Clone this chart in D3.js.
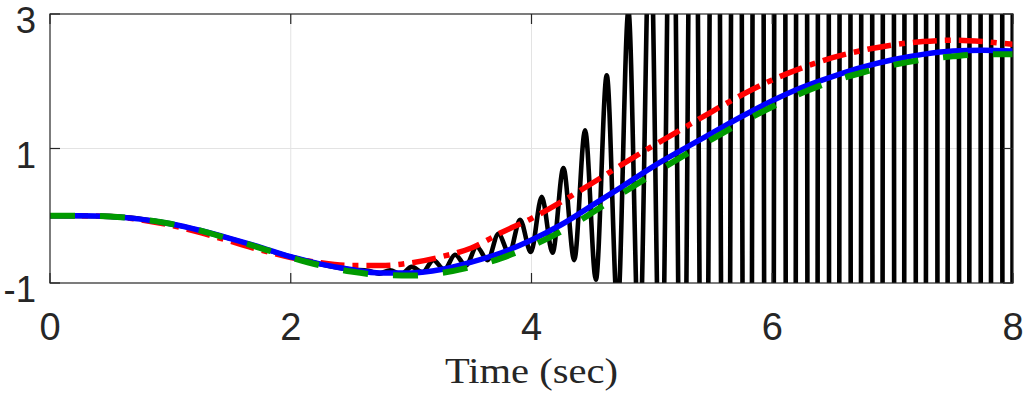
<!DOCTYPE html>
<html>
<head>
<meta charset="utf-8">
<script src="https://cdn.jsdelivr.net/npm/d3@7"></script>
<style>
  body { margin: 0; background: #fff; }
  svg { display: block; }
</style>
</head>
<body>
<div id="chart"></div>
<script>
// sample times for the smooth responses (sec)
const timeSec = [0, 0.25, 0.5, 0.75, 1, 1.25, 1.5, 1.75, 2, 2.25, 2.5, 2.75, 3, 3.25, 3.5, 3.75,
  4, 4.25, 4.5, 4.75, 5, 5.25, 5.5, 5.75, 6, 6.25, 6.5, 6.75, 7, 7.25, 7.5, 7.75, 8];

// solid blue
const blueVals = [0, 0, -0.01, -0.05, -0.12, -0.22, -0.34, -0.47, -0.61, -0.72, -0.8, -0.85, -0.85, -0.8, -0.69, -0.55,
  -0.36, -0.13, 0.15, 0.43, 0.72, 0.98, 1.23, 1.48, 1.71, 1.91, 2.07, 2.21, 2.32, 2.4, 2.45, 2.46, 2.45];

// red dash-dot
const redVals = [0, 0, -0.01, -0.06, -0.14, -0.25, -0.38, -0.51, -0.62, -0.7, -0.74, -0.74, -0.7, -0.61, -0.48, -0.25,
  -0.04, 0.21, 0.48, 0.76, 1.03, 1.29, 1.55, 1.8, 2.02, 2.2, 2.35, 2.46, 2.54, 2.59, 2.61, 2.59, 2.55];

// green dashed
const greenVals = [0, 0, -0.01, -0.05, -0.12, -0.22, -0.35, -0.48, -0.62, -0.74, -0.83, -0.88, -0.89, -0.85, -0.76, -0.63,
  -0.45, -0.23, 0.04, 0.33, 0.61, 0.88, 1.14, 1.39, 1.62, 1.83, 2.0, 2.13, 2.24, 2.32, 2.37, 2.4, 2.4];

// black (unstable) response: smooth start, then turning points of the oscillation
const blackTimes = [0, 0.5, 1, 1.5, 2, 2.25, 2.5, 2.645, 2.735, 2.825, 2.915,
  3.005, 3.095, 3.185, 3.275, 3.365, 3.455, 3.545, 3.635, 3.725, 3.815, 3.905, 3.995,
  4.085, 4.175, 4.265, 4.355, 4.445, 4.535, 4.625, 4.715, 4.805, 4.895, 4.985, 5.075,
  5.165, 5.255, 5.345, 5.435, 5.525, 5.615, 5.705, 5.795, 5.885, 5.975, 6.065, 6.155,
  6.245, 6.335, 6.425, 6.515, 6.605, 6.695, 6.785, 6.875, 6.965, 7.055, 7.145, 7.235,
  7.325, 7.415, 7.505, 7.595, 7.685, 7.775, 7.865, 7.955, 8.045];
const blackVals = [0, -0.01, -0.12, -0.34, -0.61, -0.72, -0.8, -0.82, -0.86, -0.81, -0.87,
  -0.76, -0.84, -0.66, -0.8, -0.58, -0.74, -0.46, -0.66, -0.27, -0.56, -0.06, -0.54,
  0.28, -0.55, 0.71, -0.66, 1.27, -0.95, 2.09, -1.4, 3.05, -2.1, 4.5, -3.4,
  7, -5.5, 10, -8.5, 15, -13, 22, -20, 33, -30, 45, -42,
  55, -50, 60, -55, 65, -60, 70, -62, 75, -65, 80, -70,
  85, -75, 90, -80, 95, -85, 100, -90, 105];

const xTicks = [0, 2, 4, 6, 8];
const yTicks = [-1, 1, 3];
const xLabel = "Time (sec)";

(function () {
  const W = 1023, H = 394;
  const m = { left: 50, right: 1013, top: 14, bottom: 283 };
  const axisColor = "#262626";

  const svg = d3.select("#chart").append("svg")
    .attr("width", W).attr("height", H);

  const x = d3.scaleLinear().domain([0, 8]).range([m.left, m.right]);
  const y = d3.scaleLinear().domain([-1, 3]).range([m.bottom, m.top]);

  svg.append("defs").append("clipPath").attr("id", "plotClip")
    .append("rect")
    .attr("x", m.left).attr("y", m.top)
    .attr("width", m.right - m.left).attr("height", m.bottom - m.top);

  // grid
  const grid = svg.append("g").attr("stroke", "#e3e3e3").attr("stroke-width", 1);
  grid.selectAll("line.gx").data(xTicks.filter(d => d > 0 && d < 8)).join("line")
    .attr("class", "gx")
    .attr("x1", d => x(d)).attr("x2", d => x(d))
    .attr("y1", m.top).attr("y2", m.bottom);
  grid.selectAll("line.gy").data(yTicks.filter(d => d > -1 && d < 3)).join("line")
    .attr("class", "gy")
    .attr("y1", d => y(d)).attr("y2", d => y(d))
    .attr("x1", m.left).attr("x2", m.right);

  const plot = svg.append("g").attr("clip-path", "url(#plotClip)");

  const line = d3.line()
    .x(d => x(d[0]))
    .y(d => y(d[1]))
    .curve(d3.curveMonotoneX);

  const blackData = blackTimes.map((t, i) => [t, blackVals[i]]);
  const redData = timeSec.map((t, i) => [t, redVals[i]]);
  const blueData = timeSec.map((t, i) => [t, blueVals[i]]);
  const greenData = timeSec.map((t, i) => [t, greenVals[i]]);

  plot.append("path").datum(blackData)
    .attr("d", line).attr("fill", "none")
    .attr("stroke", "#000").attr("stroke-width", 4.6)
    .attr("stroke-linejoin", "round");

  plot.append("path").datum(redData)
    .attr("d", line).attr("fill", "none")
    .attr("stroke", "#ff0000").attr("stroke-width", 5.5)
    .attr("stroke-dasharray", "24,8,6,8");

  plot.append("path").datum(blueData)
    .attr("d", line).attr("fill", "none")
    .attr("stroke", "#0000ff").attr("stroke-width", 5.5);

  plot.append("path").datum(greenData)
    .attr("d", line).attr("fill", "none")
    .attr("stroke", "#009a00").attr("stroke-width", 6)
    .attr("stroke-dasharray", "25,25");

  // axes box with inward ticks on all four sides
  const tickLen = 10;
  const axes = svg.append("g").attr("stroke", axisColor).attr("stroke-width", 1.2);

  axes.append("rect")
    .attr("x", m.left).attr("y", m.top)
    .attr("width", m.right - m.left).attr("height", m.bottom - m.top)
    .attr("fill", "none");

  axes.selectAll("line.xb").data(xTicks).join("line").attr("class", "xb")
    .attr("x1", d => x(d)).attr("x2", d => x(d))
    .attr("y1", m.bottom).attr("y2", m.bottom - tickLen);
  axes.selectAll("line.xt").data(xTicks).join("line").attr("class", "xt")
    .attr("x1", d => x(d)).attr("x2", d => x(d))
    .attr("y1", m.top).attr("y2", m.top + tickLen);
  axes.selectAll("line.yl").data(yTicks).join("line").attr("class", "yl")
    .attr("y1", d => y(d)).attr("y2", d => y(d))
    .attr("x1", m.left).attr("x2", m.left + tickLen);
  axes.selectAll("line.yr").data(yTicks).join("line").attr("class", "yr")
    .attr("y1", d => y(d)).attr("y2", d => y(d))
    .attr("x1", m.right).attr("x2", m.right - tickLen);

  // tick labels
  const labelFont = "'Liberation Sans', Arial, Helvetica, sans-serif";
  svg.append("g").selectAll("text").data(xTicks).join("text")
    .attr("x", d => x(d)).attr("y", 340)
    .attr("text-anchor", "middle")
    .attr("font-family", labelFont).attr("font-size", 38)
    .attr("fill", axisColor)
    .text(d => d);

  svg.append("g").selectAll("text").data(yTicks).join("text")
    .attr("x", 36).attr("y", d => y(d) + 19)
    .attr("text-anchor", "end")
    .attr("font-family", labelFont).attr("font-size", 36.5)
    .attr("fill", axisColor)
    .text(d => d);

  svg.append("text")
    .attr("x", (m.left + m.right) / 2).attr("y", 383)
    .attr("text-anchor", "middle")
    .attr("font-family", "'Liberation Serif', 'Times New Roman', serif")
    .attr("font-size", 36)
    .attr("textLength", 173).attr("lengthAdjust", "spacingAndGlyphs")
    .attr("fill", axisColor)
    .text(xLabel);
})();
</script>
</body>
</html>
